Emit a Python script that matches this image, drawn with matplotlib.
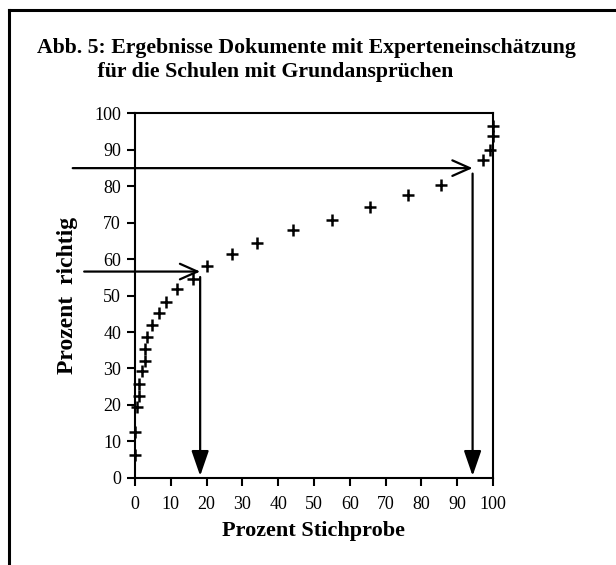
import matplotlib
matplotlib.use("Agg")
import matplotlib.pyplot as plt
from matplotlib.lines import Line2D
from matplotlib.patches import FancyArrowPatch

# ---- data ----
x_stichprobe = [0, 0, 0.6, 1.2, 1.1, 2.0, 2.8, 2.7, 3.4, 4.7, 6.7, 8.6, 11.8,
                16.3, 20.0, 27.2, 34.2, 44.0, 55.1, 65.6, 76.3, 85.4, 97.1,
                99.2, 100.0, 100.0]
y_richtig = [6.2, 12.5, 19.5, 22.4, 25.7, 29.2, 32.1, 35.4, 38.5, 42.0, 45.3,
             48.3, 51.8, 54.6, 58.2, 61.5, 64.4, 67.9, 70.8, 74.2, 77.5, 80.4,
             87.3, 90.0, 93.7, 96.6]
ticks = [0, 10, 20, 30, 40, 50, 60, 70, 80, 90, 100]
# reading guides: (y level, x where the arrow meets the curve)
guide_y = [56.6, 85.0]
guide_x = [18.2, 94.3]
guide_start = [-14.2, -17.4]

title = "Abb. 5: Ergebnisse Dokumente mit Experteneinschätzung\n           für die Schulen mit Grundansprüchen"
xlabel = "Prozent Stichprobe"
ylabel = "Prozent  richtig"

serif = ["Liberation Serif", "DejaVu Serif"]
plt.rcParams["font.family"] = serif

fig = plt.figure(figsize=(6.16, 5.65), dpi=100)
ax = fig.add_axes([135 / 616, (565 - 477.7) / 565, 358 / 616, 364.2 / 565])

ax.plot(x_stichprobe, y_richtig, linestyle="none", marker="+", color="black",
        markersize=8, markeredgewidth=1.8, clip_on=False, zorder=5)

ax.set_xlim(0, 100)
ax.set_ylim(0, 100)
ax.set_xticks(ticks)
ax.set_yticks(ticks)
ax.tick_params(direction="out", length=6, width=1.5, labelsize=13)
ax.tick_params(axis="x", pad=7)
ax.tick_params(axis="y", pad=4)
for s in ax.spines.values():
    s.set_linewidth(1.5)

ax.set_xlabel(xlabel, fontsize=16, fontweight="bold", labelpad=6)
ax.set_ylabel(ylabel, fontsize=17, fontweight="bold", labelpad=12)

for gy, gx, gs in zip(guide_y, guide_x, guide_start):
    # horizontal guide with open arrow head
    a = FancyArrowPatch((gs, gy), (gx, gy), arrowstyle="->,head_length=0.9,head_width=0.4",
                        mutation_scale=14, color="black", lw=1.6, clip_on=False,
                        shrinkA=0, shrinkB=0)
    ax.add_patch(a)
    # vertical guide with filled head
    b = FancyArrowPatch((gx, gy - 1.5), (gx, 0.5), arrowstyle="-|>,head_length=1.1,head_width=0.38",
                        mutation_scale=14, color="black", lw=1.6, clip_on=False,
                        shrinkA=0, shrinkB=0)
    ax.add_patch(b)

fig.text(37 / 616, 1 - 60 / 565, title, fontsize=15.7, fontweight="bold",
         ha="left", va="center", linespacing=1.3)

# outer frame
fig.add_artist(Line2D([9 / 616, 9 / 616], [0, 1 - 10 / 565], color="black", lw=2.2))
fig.add_artist(Line2D([9 / 616, 1], [1 - 10 / 565, 1 - 10 / 565], color="black", lw=2.2))

fig.savefig("out.png", dpi=100)
